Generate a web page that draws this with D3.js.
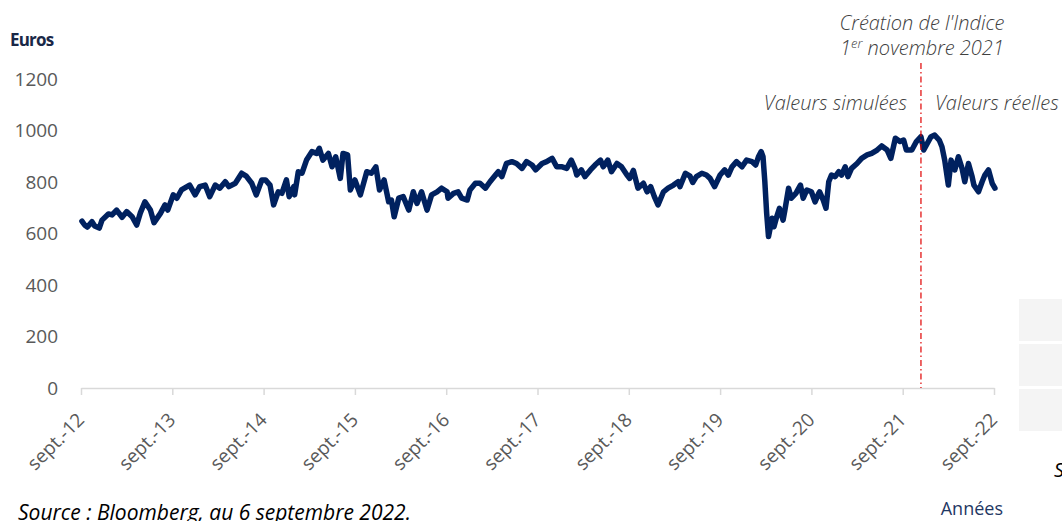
<!DOCTYPE html>
<html lang="fr">
<head>
	<meta charset="utf-8">
	<title>Indice</title>
	<script src="https://cdnjs.cloudflare.com/ajax/libs/d3/7.8.5/d3.min.js"></script>
	<style>
	body { margin: 0; background: #ffffff; }
	svg { display: block; }
	</style>
</head>
<body>
<svg id="chart" width="1062" height="521"></svg>
<script>
// dates as decimal years, values in euros
var years = [
	2012.69, 2012.72, 2012.75, 2012.80, 2012.83, 2012.88, 2012.91, 2012.98, 2013.02, 2013.07,
	2013.13, 2013.18, 2013.24, 2013.29, 2013.33, 2013.38, 2013.44, 2013.48, 2013.55, 2013.60,
	2013.63, 2013.69, 2013.73, 2013.78, 2013.87, 2013.93, 2013.98, 2014.04, 2014.09, 2014.15,
	2014.20, 2014.26, 2014.30, 2014.37, 2014.44, 2014.49, 2014.55, 2014.60, 2014.66, 2014.70,
	2014.75, 2014.79, 2014.84, 2014.88, 2014.93, 2014.96, 2015.01, 2015.02, 2015.06, 2015.10,
	2015.15, 2015.21, 2015.26, 2015.29, 2015.33, 2015.39, 2015.43, 2015.47, 2015.52, 2015.55,
	2015.60, 2015.63, 2015.68, 2015.74, 2015.81, 2015.86, 2015.91, 2015.95, 2016.00, 2016.05,
	2016.08, 2016.11, 2016.16, 2016.21, 2016.27, 2016.32, 2016.36, 2016.41, 2016.47, 2016.52,
	2016.58, 2016.63, 2016.69, 2016.70, 2016.76, 2016.81, 2016.85, 2016.91, 2016.94, 2017.00,
	2017.05, 2017.11, 2017.16, 2017.22, 2017.25, 2017.29, 2017.34, 2017.40, 2017.45, 2017.51,
	2017.56, 2017.62, 2017.66, 2017.73, 2017.78, 2017.84, 2017.89, 2017.95, 2018.00, 2018.05,
	2018.09, 2018.11, 2018.16, 2018.20, 2018.26, 2018.31, 2018.37, 2018.40, 2018.45, 2018.49,
	2018.55, 2018.60, 2018.66, 2018.69, 2018.73, 2018.78, 2018.84, 2018.88, 2018.92, 2018.96,
	2019.00, 2019.06, 2019.11, 2019.17, 2019.22, 2019.24, 2019.30, 2019.35, 2019.38, 2019.42,
	2019.48, 2019.53, 2019.57, 2019.62, 2019.68, 2019.73, 2019.77, 2019.81, 2019.86, 2019.92,
	2019.97, 2020.03, 2020.07, 2020.10, 2020.13, 2020.15, 2020.17, 2020.19, 2020.21, 2020.25,
	2020.27, 2020.30, 2020.33, 2020.37, 2020.39, 2020.43, 2020.46, 2020.51, 2020.56, 2020.59,
	2020.63, 2020.68, 2020.72, 2020.76, 2020.77, 2020.81, 2020.84, 2020.87, 2020.90, 2020.94,
	2020.98, 2021.01, 2021.05, 2021.08, 2021.12, 2021.18, 2021.23, 2021.29, 2021.34, 2021.40,
	2021.45, 2021.51, 2021.55, 2021.60, 2021.65, 2021.69, 2021.72, 2021.78, 2021.83, 2021.88,
	2021.91, 2021.94, 2021.99, 2022.03, 2022.08, 2022.11, 2022.14, 2022.18, 2022.21, 2022.25,
	2022.29, 2022.33, 2022.36, 2022.40, 2022.44, 2022.46, 2022.51, 2022.55, 2022.58, 2022.62,
	2022.66, 2022.69
];
var values = [
	648, 633, 625, 646, 629, 621, 652, 676, 672, 691,
	663, 685, 665, 633, 680, 723, 691, 642, 678, 711,
	691, 750, 737, 769, 788, 750, 782, 788, 743, 788,
	776, 801, 782, 795, 834, 823, 795, 750, 808, 808,
	788, 711, 762, 756, 808, 743, 782, 750, 840, 834,
	885, 918, 911, 931, 885, 911, 859, 898, 814, 911,
	905, 769, 808, 750, 840, 834, 859, 769, 808, 723,
	730, 665, 737, 743, 691, 762, 717, 762, 691, 750,
	762, 776, 762, 737, 756, 762, 737, 730, 769, 795,
	795, 776, 801, 827, 840, 821, 872, 879, 872, 853,
	879, 866, 847, 872, 879, 892, 859, 859, 853, 885,
	853, 827, 847, 821, 847, 866, 885, 859, 885, 840,
	872, 859, 827, 814, 845, 776, 795, 762, 782, 743,
	711, 762, 776, 788, 801, 782, 834, 823, 798, 821,
	834, 827, 814, 782, 827, 847, 827, 859, 879, 859,
	885, 879, 866, 898, 918, 898, 801, 678, 588, 659,
	626, 665, 698, 652, 691, 776, 737, 756, 788, 737,
	769, 762, 723, 756, 762, 730, 698, 801, 827, 821,
	840, 827, 859, 821, 853, 872, 892, 905, 911, 924,
	940, 924, 892, 970, 957, 963, 924, 924, 957, 976,
	924, 944, 976, 982, 963, 937, 885, 788, 885, 847,
	898, 853, 801, 872, 821, 788, 762, 801, 827, 847,
	795, 776
];
var tickYears = [2012.68, 2013.68, 2014.68, 2015.68, 2016.68, 2017.68, 2018.68, 2019.68, 2020.68, 2021.68, 2022.68];
var tickLabels = ['sept.-12', 'sept.-13', 'sept.-14', 'sept.-15', 'sept.-16', 'sept.-17', 'sept.-18', 'sept.-19', 'sept.-20', 'sept.-21', 'sept.-22'];
var yTicks = [0, 200, 400, 600, 800, 1000, 1200];
var creationYear = 2021.88;

var svg = d3.select('#chart');
var font = '"Open Sans", sans-serif';

var x = d3.scaleLinear().domain([2012.68, 2022.68]).range([81, 994]);
var y = d3.scaleLinear().domain([0, 1200]).range([388, 79]);

// x axis
var xAxis = svg.append('g')
	.attr('transform', 'translate(0,388)')
	.call(d3.axisBottom(x).tickValues(tickYears).tickSize(7).tickSizeOuter(0).tickFormat(''));
xAxis.select('.domain').attr('stroke', '#d9d9d9').attr('stroke-width', 1.5);
xAxis.selectAll('.tick line').attr('stroke', '#d9d9d9').attr('stroke-width', 1.5);
xAxis.selectAll('.tick text').remove();
xAxis.selectAll('.tick').append('text')
	.attr('font-family', font).attr('font-size', 19).attr('fill', '#595959')
	.attr('text-anchor', 'end')
	.attr('transform', 'translate(4,33) rotate(-45)')
	.text(function(d, i) { return tickLabels[i]; });

// y axis (labels only)
var yAxis = svg.append('g')
	.attr('transform', 'translate(58,0)')
	.call(d3.axisLeft(y).tickValues(yTicks).tickSize(0).tickPadding(0).tickFormat(d3.format('d')));
yAxis.select('.domain').remove();
yAxis.selectAll('.tick text')
	.attr('font-family', font).attr('font-size', 19).attr('fill', '#595959');

svg.append('text').attr('x', 10).attr('y', 46)
	.attr('font-family', font).attr('font-size', 17).attr('font-weight', 'bold')
	.attr('letter-spacing', '-0.8').attr('fill', '#1a2847').text('Euros');

svg.append('text').attr('x', 1003).attr('y', 515).attr('text-anchor', 'end')
	.attr('font-family', font).attr('font-size', 18).attr('fill', '#1f3864').text('Années');

// series
var line = d3.line()
	.x(function(d, i) { return x(years[i]); })
	.y(function(d) { return y(d); });
svg.append('path').datum(values)
	.attr('fill', 'none').attr('stroke', '#00215f').attr('stroke-width', 5.5)
	.attr('stroke-linejoin', 'round').attr('stroke-linecap', 'round')
	.attr('d', line);

// creation marker
svg.append('line')
	.attr('x1', x(creationYear)).attr('x2', x(creationYear))
	.attr('y1', 63).attr('y2', 388)
	.attr('stroke', '#e00000').attr('stroke-width', 1.2)
	.attr('stroke-dasharray', '6,3,1.5,3');

var ann = svg.append('g').attr('font-family', font).attr('font-style', 'italic')
	.attr('font-weight', 300).attr('font-size', 20).attr('fill', '#404040');
ann.append('text').attr('x', x(creationYear) + 1).attr('y', 30).attr('text-anchor', 'middle')
	.text("Création de l'Indice");
var t2 = ann.append('text').attr('x', x(creationYear) + 1).attr('y', 55).attr('text-anchor', 'middle');
t2.append('tspan').text('1');
t2.append('tspan').attr('font-size', 13).attr('dy', -7).text('er');
t2.append('tspan').attr('dy', 7).text(' novembre 2021');
ann.append('text').attr('x', x(creationYear) - 14).attr('y', 110).attr('text-anchor', 'end')
	.text('Valeurs simulées');
ann.append('text').attr('x', x(creationYear) + 14).attr('y', 110)
	.text('Valeurs réelles');

// source
svg.append('text').attr('x', 18).attr('y', 520)
	.attr('font-family', font).attr('font-style', 'italic').attr('font-size', 21)
	.attr('fill', '#000000').text('Source : Bloomberg, au 6 septembre 2022.');

// leftover boxes at the right edge
var boxTops = [299, 344, 389];
svg.selectAll('rect.box').data(boxTops).enter().append('rect')
	.attr('x', 1019).attr('y', function(d) { return d; })
	.attr('width', 43).attr('height', 42).attr('fill', '#f4f4f4');
svg.append('text').attr('x', 1054).attr('y', 477)
	.attr('font-family', font).attr('font-style', 'italic').attr('font-size', 20)
	.attr('fill', '#000000').text('S');
</script>
</body>
</html>
